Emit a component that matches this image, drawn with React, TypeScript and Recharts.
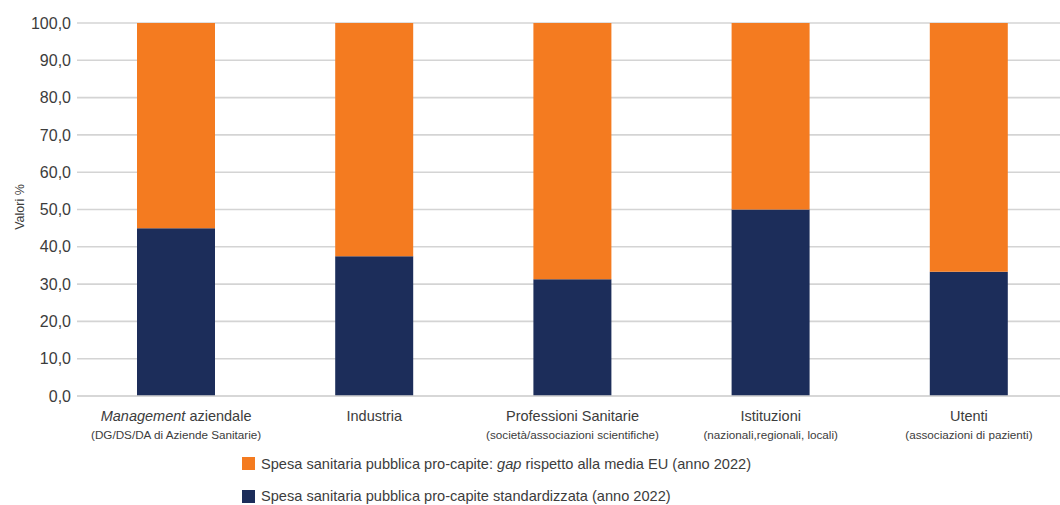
import React from 'react';
import { BarChart, Bar, XAxis, YAxis, CartesianGrid, Legend, Label } from 'recharts';

const categories = ['aziendale', 'Industria', 'Professioni Sanitarie', 'Istituzioni', 'Utenti'];
const italicPrefix = ['Management', '', '', '', ''];
const subLabels = [
  '(DG/DS/DA di Aziende Sanitarie)',
  '',
  '(società/associazioni scientifiche)',
  '(nazionali,regionali, locali)',
  '(associazioni di pazienti)',
];
const standardizzata = [45.0, 37.5, 31.3, 50.0, 33.3];
const gap = [55.0, 62.5, 68.7, 50.0, 66.7];
const yTicks = [0, 10, 20, 30, 40, 50, 60, 70, 80, 90, 100];

const seriesNames = [
  'Spesa sanitaria pubblica pro-capite standardizzata (anno 2022)',
  'Spesa sanitaria pubblica pro-capite: gap rispetto alla media EU (anno 2022)',
];
const NAVY = '#1C2D5A';
const ORANGE = '#F47B20';
const FONT = '"Liberation Sans", Arial, sans-serif';
const TEXT = '#3c3c3c';

const data = categories.map((c, i) => ({
  name: c,
  standard: standardizzata[i],
  gap: gap[i],
}));

const XTick = (props: any) => {
  const { x, payload } = props;
  const i = payload.index;
  return (
    <g transform={`translate(${x},396)`}>
      <text textAnchor="middle" y={25} fontSize={14.5} fill={TEXT} fontFamily={FONT}>
        {italicPrefix[i] ? (
          <>
            <tspan fontStyle="italic">{italicPrefix[i]}</tspan>
            <tspan>{' ' + categories[i]}</tspan>
          </>
        ) : (
          categories[i]
        )}
      </text>
      {subLabels[i] && (
        <text textAnchor="middle" y={43} fontSize={11.7} fill={TEXT} fontFamily={FONT}>
          {subLabels[i]}
        </text>
      )}
    </g>
  );
};

const LegendContent = () => (
  <div style={{ fontFamily: FONT, fontSize: 14.6, color: TEXT }}>
    <div style={{ display: 'flex', alignItems: 'center', height: 20, marginBottom: 12.5 }}>
      <span style={{ width: 13, height: 13, background: ORANGE, display: 'inline-block', marginRight: 6 }} />
      <span>
        Spesa sanitaria pubblica pro-capite: <i>gap</i> rispetto alla media EU (anno 2022)
      </span>
    </div>
    <div style={{ display: 'flex', alignItems: 'center', height: 20 }}>
      <span style={{ width: 13, height: 13, background: NAVY, display: 'inline-block', marginRight: 6 }} />
      <span>{seriesNames[0]}</span>
    </div>
  </div>
);

const YLabel = () => (
  <text
    x={19.5}
    y={207}
    transform="rotate(-90 19.5 207)"
    textAnchor="middle"
    dominantBaseline="central"
    fontSize={12.5}
    fill={TEXT}
    fontFamily={FONT}
  >
    Valori %
  </text>
);

export default function App() {
  return (
    <div style={{ position: 'absolute', left: 0, top: 0, width: 1060, height: 505, overflow: 'hidden', background: '#fff' }}>
      <BarChart width={1068} height={505} data={data} margin={{ top: 23, right: 0, left: 0, bottom: 59 }}>
        <CartesianGrid vertical={false} stroke="#d4d4d4" strokeWidth={1.6} />
        <XAxis
          dataKey="name"
          height={50}
          tickLine={false}
          axisLine={{ stroke: '#d4d4d4', strokeWidth: 1.6 }}
          tick={<XTick />}
          interval={0}
        />
        <YAxis
          width={77}
          domain={[0, 100]}
          ticks={yTicks}
          axisLine={false}
          tickLine={false}
          tickSize={4}
          tickMargin={2}
          tick={{ fontSize: 16, fill: TEXT, fontFamily: FONT }}
          tickFormatter={(v: number) => v.toFixed(1).replace('.', ',')}
        >
          <Label content={<YLabel />} />
        </YAxis>
        <Legend
          layout="horizontal"
          verticalAlign="middle"
          align="center"
          content={<LegendContent />}
          wrapperStyle={{ top: 453.5, left: 242, width: 'auto' }}
        />
        <Bar dataKey="standard" name={seriesNames[0]} stackId="a" fill={NAVY} barSize={78} isAnimationActive={false} />
        <Bar dataKey="gap" name={seriesNames[1]} stackId="a" fill={ORANGE} barSize={78} isAnimationActive={false} />
      </BarChart>
    </div>
  );
}
